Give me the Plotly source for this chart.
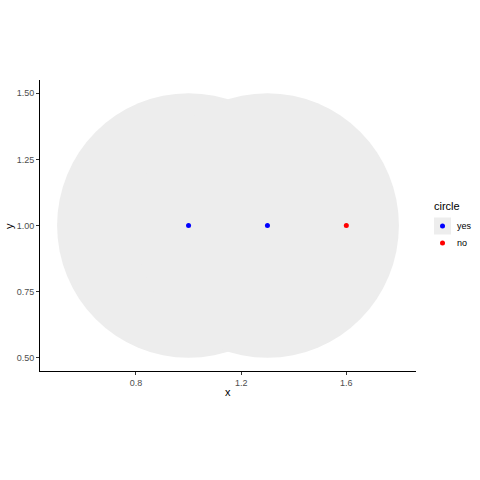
import plotly.graph_objects as go

# data
x_vals = [1.0, 1.3, 1.6]
y_vals = [1.0, 1.0, 1.0]
circle = ["yes", "yes", "no"]
radius = 0.5
legend_levels = ["yes", "no"]
colors = {"yes": "#0000FF", "no": "#FF0000"}
fill_color = "#EDEDED"
x_ticks = [0.8, 1.2, 1.6]
x_tick_labels = ["0.8", "1.2", "1.6"]
y_ticks = [0.5, 0.75, 1.0, 1.25, 1.5]
y_tick_labels = ["0.50", "0.75", "1.00", "1.25", "1.50"]

W, H = 480, 480
L, T = 40, 80
R = W - 416
B = H - 371
pw, ph = W - L - R, H - T - B

def px_x(p):
    return (p - L) / pw

def px_y(p):
    return (H - B - p) / ph

fig = go.Figure()
shapes = []
for xv, yv, c in zip(x_vals, y_vals, circle):
    if c == "yes":
        shapes.append(dict(type="circle", xref="x", yref="y",
                           x0=xv - radius, x1=xv + radius,
                           y0=yv - radius, y1=yv + radius,
                           fillcolor=fill_color, line=dict(width=0),
                           layer="below"))

for lvl in legend_levels:
    xs = [xv for xv, c in zip(x_vals, circle) if c == lvl]
    ys = [yv for yv, c in zip(y_vals, circle) if c == lvl]
    fig.add_trace(go.Scatter(x=xs, y=ys, mode="markers",
                             marker=dict(color=colors[lvl], size=5),
                             showlegend=False, hoverinfo="skip"))

# axis titles
annotations = [
    dict(text="x", xref="paper", yref="paper", x=px_x(228), y=px_y(392),
         xanchor="center", yanchor="middle", showarrow=False,
         font=dict(size=11, color="black")),
    dict(text="y", xref="paper", yref="paper", x=px_x(9), y=px_y(226),
         xanchor="center", yanchor="middle", showarrow=False, textangle=-90,
         font=dict(size=11, color="black")),
]
# manual legend
annotations.append(dict(text="circle", xref="paper", yref="paper",
                        x=px_x(432), y=px_y(206), xanchor="left", yanchor="middle",
                        showarrow=False, font=dict(size=11, color="black")))
key_y = {"yes": 226, "no": 243}
for lvl in legend_levels:
    cy = key_y[lvl]
    if lvl == "yes":
        shapes.append(dict(type="rect", xref="paper", yref="paper",
                           x0=px_x(434), x1=px_x(451), y0=px_y(cy + 8.5), y1=px_y(cy - 8.5),
                           fillcolor=fill_color, line=dict(width=0), layer="below"))
    shapes.append(dict(type="circle", xref="paper", yref="paper",
                       xsizemode="pixel", ysizemode="pixel",
                       xanchor=px_x(442.5), yanchor=px_y(cy),
                       x0=-2.5, x1=2.5, y0=-2.5, y1=2.5,
                       fillcolor=colors[lvl], line=dict(width=0)))
    annotations.append(dict(text=lvl, xref="paper", yref="paper",
                            x=px_x(455), y=px_y(cy), xanchor="left", yanchor="middle",
                            showarrow=False, font=dict(size=9, color="black")))

axis_common = dict(showgrid=False, zeroline=False, showline=True, linecolor="black",
                   linewidth=1, ticks="outside", ticklen=3, tickcolor="#333333",
                   tickfont=dict(size=9, color="#4D4D4D"))
fig.update_layout(
    width=W, height=H,
    margin=dict(l=L, r=R, t=T, b=B, autoexpand=False),
    paper_bgcolor="white", plot_bgcolor="white",
    font=dict(family="Liberation Sans, Arial, sans-serif"),
    shapes=shapes, annotations=annotations,
    xaxis=dict(range=[0.435, 1.865], tickvals=x_ticks, ticktext=x_tick_labels,
               **axis_common),
    yaxis=dict(range=[0.45, 1.55], tickvals=y_ticks, ticktext=y_tick_labels,
               **axis_common),
)
fig.write_html("out.html", config={"displayModeBar": False},
               post_script="document.body.style.margin='0px';")
